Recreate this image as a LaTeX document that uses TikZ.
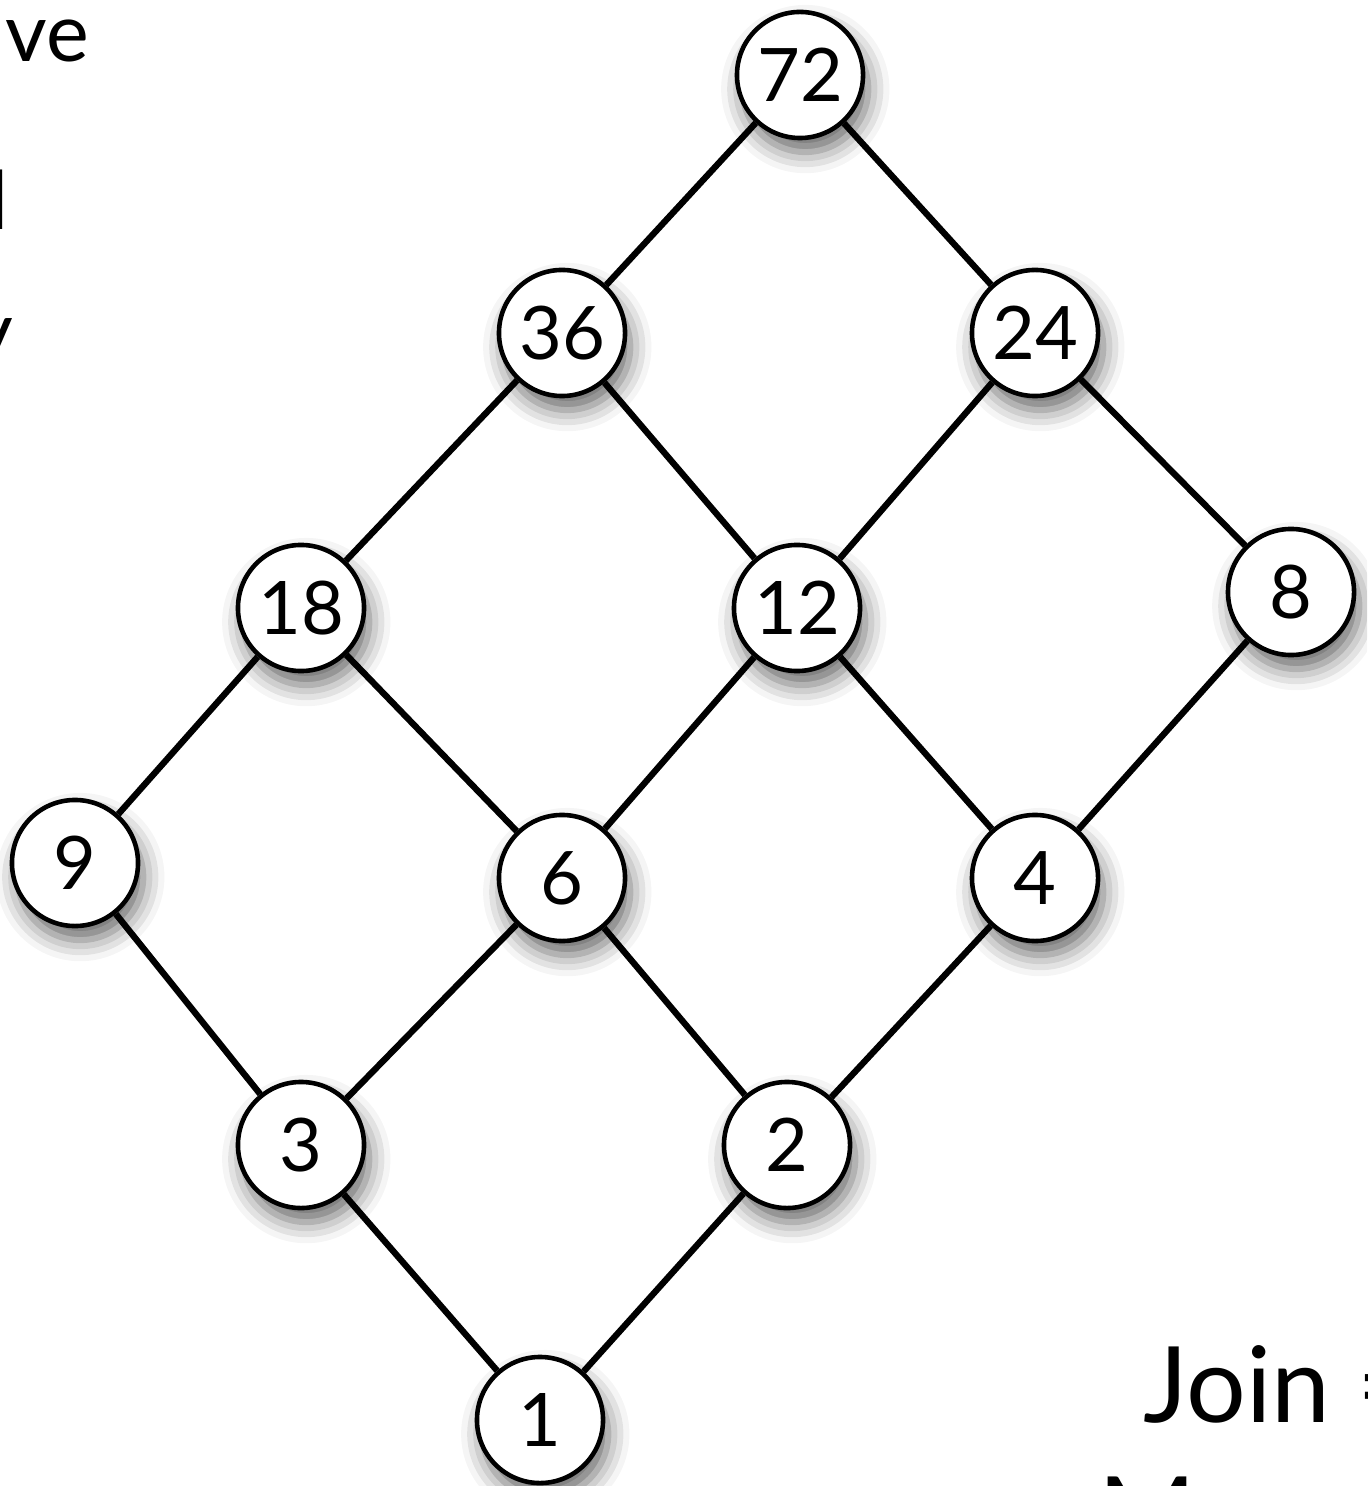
\documentclass[tikz,border=0pt]{standalone}
\usepackage{fontspec}
\setmainfont{Lato}
\usetikzlibrary{positioning, shadows.blur, backgrounds}

\begin{document}
\begin{tikzpicture}[
    x=0.01cm, y=-0.01cm,
    vertex/.style={circle, draw, minimum size=12.6mm, inner sep=0pt, line width=1.3pt, fill=white,
        font=\fontsize{21}{24}\selectfont,
        blur shadow={shadow xshift=1.5pt, shadow yshift=-4pt, shadow blur radius=6pt, shadow opacity=60}},
    edge/.style={line width=1.8pt},
    side text/.style={font=\fontsize{23}{28}\selectfont, inner sep=0pt},
    big text/.style={font=\fontsize{30}{36}\selectfont, inner sep=0pt}
]
\useasboundingbox (0,0) rectangle (1367,1486);
\clip (0,0) rectangle (1367,1486);

% 顶点
\node[vertex] (n72) at (800, 75) {72};
\node[vertex] (n36) at (562, 333) {36};
\node[vertex] (n24) at (1035, 333) {24};
\node[vertex] (n18) at (301, 608) {18};
\node[vertex] (n12) at (797, 608) {12};
\node[vertex] (n8) at (1291, 592) {8};
\node[vertex] (n9) at (75, 863) {9};
\node[vertex] (n6) at (562, 878) {6};
\node[vertex] (n4) at (1035, 878) {4};
\node[vertex] (n3) at (301, 1145) {3};
\node[vertex] (n2) at (787, 1145) {2};
\node[vertex] (n1) at (540, 1420) {1};

% 边
\begin{scope}[on background layer]
    \draw[edge] (n72) -- (n36);
    \draw[edge] (n72) -- (n24);
    \draw[edge] (n36) -- (n18);
    \draw[edge] (n36) -- (n12);
    \draw[edge] (n24) -- (n12);
    \draw[edge] (n24) -- (n8);
    \draw[edge] (n18) -- (n9);
    \draw[edge] (n18) -- (n6);
    \draw[edge] (n12) -- (n6);
    \draw[edge] (n12) -- (n4);
    \draw[edge] (n8) -- (n4);
    \draw[edge] (n9) -- (n3);
    \draw[edge] (n6) -- (n3);
    \draw[edge] (n6) -- (n2);
    \draw[edge] (n4) -- (n2);
    \draw[edge] (n3) -- (n1);
    \draw[edge] (n2) -- (n1);
\end{scope}

% 文字（被裁切）
\node[side text, anchor=base east] (tve) at (90, 62) {ve};
\node[side text, anchor=base east] (tl) at (9, 230) {l};
\node[side text, anchor=base east] (ty) at (14, 360) {y};
\node[big text, anchor=base west] (tjoin) at (1143, 1422) {Join =};
\node[big text, anchor=base west] (tm) at (1098, 1552) {M};
\end{tikzpicture}
\end{document}
